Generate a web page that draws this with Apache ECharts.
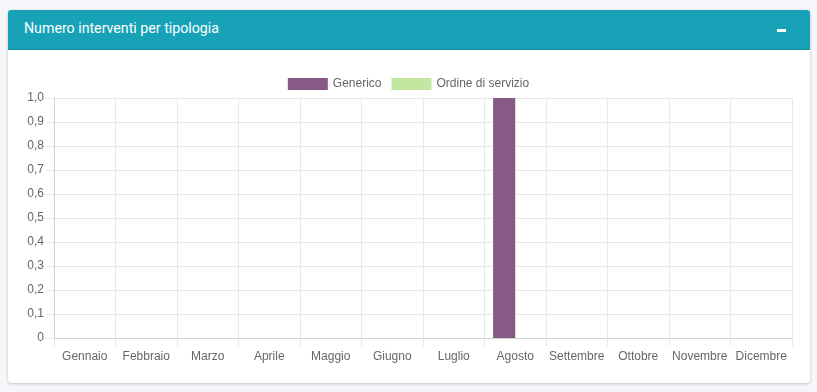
<!DOCTYPE html>
<html><head><meta charset="utf-8">
<script src="https://cdn.jsdelivr.net/npm/echarts@6/dist/echarts.min.js"></script>
<style>
html,body{margin:0;padding:0;background:#f4f6f9;width:817px;height:392px;overflow:hidden;font-family:"Liberation Sans",Arial,sans-serif;}
#card{position:absolute;left:8px;top:10px;width:802px;height:373px;background:#fff;border-radius:3px;box-shadow:0 0 1px rgba(0,0,0,.13),0 1px 3px rgba(0,0,0,.2);}
#hdr{position:absolute;left:0;top:0;width:802px;height:39px;background:#17a2b8;border-radius:3px 3px 0 0;border-bottom:1px solid #138e9f;}
#title{position:absolute;left:16px;top:10px;color:#fff;font-size:14.2px;font-family:"Roboto","Liberation Sans",sans-serif;}
#minus{position:absolute;left:769px;top:19px;width:9px;height:3px;background:#fff;}
#chart{position:absolute;left:0;top:0;width:817px;height:392px;}
</style></head>
<body>
<div id="card"><div id="hdr"><div id="title">Numero interventi per tipologia</div><div id="minus"></div></div></div>
<div id="chart"></div>
<script>
const categories=['Gennaio','Febbraio','Marzo','Aprile','Maggio','Giugno','Luglio','Agosto','Settembre','Ottobre','Novembre','Dicembre'];
const generico=[0,0,0,0,0,0,0,1,0,0,0,0];
const ordineServizio=[0,0,0,0,0,0,0,0,0,0,0,0];
const seriesNames=['Generico','Ordine di servizio'];
const seriesColors=['#875a85','#c3e6a0'];
const chart=echarts.init(document.getElementById('chart'));
const gridCol='#e8e8e8';
chart.setOption({
  animation:false,
  textStyle:{fontFamily:'Liberation Sans'},
  legend:{top:73,left:'center',itemWidth:40,itemHeight:12,itemGap:10,icon:'rect',
    textStyle:{color:'#666',fontSize:12},data:seriesNames},
  grid:{left:54,right:25,top:98,bottom:54,containLabel:false},
  xAxis:{type:'category',data:categories,boundaryGap:true,
    axisLine:{lineStyle:{color:'#d0d0d0'}},
    axisTick:{show:true,interval:0,length:8,lineStyle:{color:gridCol}},
    axisLabel:{color:'#666',fontSize:12,margin:13,interval:0},
    splitLine:{show:true,interval:0,lineStyle:{color:gridCol}}},
  yAxis:{type:'value',min:0,max:1,interval:0.1,
    axisLine:{show:true,lineStyle:{color:'#d0d0d0'}},
    axisTick:{show:true,length:8,lineStyle:{color:gridCol}},
    axisLabel:{color:'#666',fontSize:12,margin:10,formatter:v=>v===0?'0':v.toFixed(1).replace('.',',')},
    splitLine:{show:true,lineStyle:{color:gridCol}}},
  series:[
    {name:seriesNames[0],type:'bar',data:generico,barWidth:'36%',barGap:'0%',itemStyle:{color:seriesColors[0]}},
    {name:seriesNames[1],type:'bar',data:ordineServizio,barWidth:'36%',barGap:'0%',itemStyle:{color:seriesColors[1]}}
  ]
});
</script>
</body></html>
